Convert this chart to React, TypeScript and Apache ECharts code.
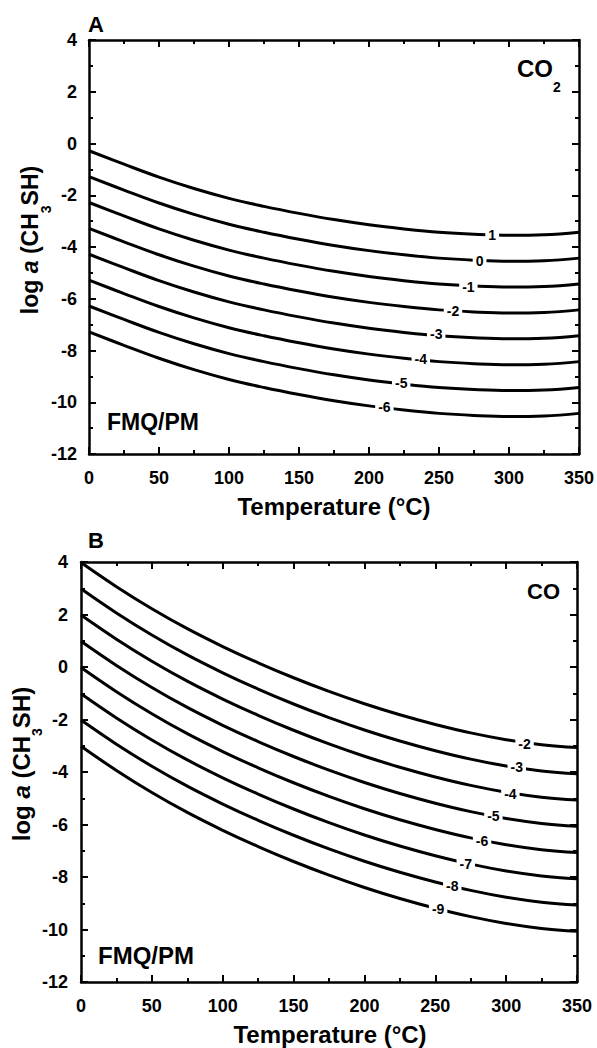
import React, { useEffect, useRef } from 'react';
import * as echarts from 'echarts';

const FONT = "'Liberation Sans', Arial, Helvetica, sans-serif";

// Temperature grid (°C)
const temps = [0, 25, 50, 75, 100, 125, 150, 175, 200, 225, 250, 275, 300, 325, 350];
const xTickLabels = ['0', '50', '100', '150', '200', '250', '300', '350'];
const yTickLabels = ['-12', '-10', '-8', '-6', '-4', '-2', '0', '2', '4'];

// Panel A (CO2) – log a(CH3SH) contours
const aP1 = [-0.28, -0.8, -1.3, -1.74, -2.12, -2.43, -2.7, -2.94, -3.14, -3.3, -3.43, -3.51, -3.55, -3.53, -3.43];
const a0 = [-1.28, -1.8, -2.3, -2.74, -3.12, -3.43, -3.7, -3.94, -4.14, -4.3, -4.43, -4.51, -4.55, -4.53, -4.43];
const aM1 = [-2.28, -2.8, -3.3, -3.74, -4.12, -4.43, -4.7, -4.94, -5.14, -5.3, -5.43, -5.51, -5.55, -5.53, -5.43];
const aM2 = [-3.28, -3.8, -4.3, -4.74, -5.12, -5.43, -5.7, -5.94, -6.14, -6.3, -6.43, -6.51, -6.55, -6.53, -6.43];
const aM3 = [-4.28, -4.8, -5.3, -5.74, -6.12, -6.43, -6.7, -6.94, -7.14, -7.3, -7.43, -7.51, -7.55, -7.53, -7.43];
const aM4 = [-5.28, -5.8, -6.3, -6.74, -7.12, -7.43, -7.7, -7.94, -8.14, -8.3, -8.43, -8.51, -8.55, -8.53, -8.43];
const aM5 = [-6.28, -6.8, -7.3, -7.74, -8.12, -8.43, -8.7, -8.94, -9.14, -9.3, -9.43, -9.51, -9.55, -9.53, -9.43];
const aM6 = [-7.28, -7.8, -8.3, -8.74, -9.12, -9.43, -9.7, -9.94, -10.14, -10.3, -10.43, -10.51, -10.55, -10.53, -10.43];
const curvesA = [aP1, a0, aM1, aM2, aM3, aM4, aM5, aM6];
const curveLabelsA: [number, number, string][] = [
  [288, -3.53, '1'],
  [279, -4.54, '0'],
  [271, -5.53, '-1'],
  [260, -6.46, '-2'],
  [248, -7.38, '-3'],
  [237, -8.33, '-4'],
  [223, -9.26, '-5'],
  [211, -10.2, '-6'],
];

// Panel B (CO)
const bM2 = [3.98, 3.06, 2.22, 1.46, 0.78, 0.16, -0.41, -0.93, -1.4, -1.82, -2.19, -2.51, -2.77, -2.96, -3.07];
const bM3 = [2.98, 2.06, 1.22, 0.46, -0.22, -0.84, -1.41, -1.93, -2.4, -2.82, -3.19, -3.51, -3.77, -3.96, -4.07];
const bM4 = [1.98, 1.06, 0.22, -0.54, -1.22, -1.84, -2.41, -2.93, -3.4, -3.82, -4.19, -4.51, -4.77, -4.96, -5.07];
const bM5 = [0.98, 0.06, -0.78, -1.54, -2.22, -2.84, -3.41, -3.93, -4.4, -4.82, -5.19, -5.51, -5.77, -5.96, -6.07];
const bM6 = [-0.02, -0.94, -1.78, -2.54, -3.22, -3.84, -4.41, -4.93, -5.4, -5.82, -6.19, -6.51, -6.77, -6.96, -7.07];
const bM7 = [-1.02, -1.94, -2.78, -3.54, -4.22, -4.84, -5.41, -5.93, -6.4, -6.82, -7.19, -7.51, -7.77, -7.96, -8.07];
const bM8 = [-2.02, -2.94, -3.78, -4.54, -5.22, -5.84, -6.41, -6.93, -7.4, -7.82, -8.19, -8.51, -8.77, -8.96, -9.07];
const bM9 = [-3.02, -3.94, -4.78, -5.54, -6.22, -6.84, -7.41, -7.93, -8.4, -8.82, -9.19, -9.51, -9.77, -9.96, -10.07];
const curvesB = [bM2, bM3, bM4, bM5, bM6, bM7, bM8, bM9];
const curveLabelsB: [number, number, string][] = [
  [313, -2.92, '-2'],
  [307.5, -3.82, '-3'],
  [303, -4.85, '-4'],
  [291, -5.67, '-5'],
  [283, -6.64, '-6'],
  [271.5, -7.52, '-7'],
  [262, -8.34, '-8'],
  [252, -9.22, '-9'],
];

const makeX = (gridIndex: number, position: string, showLabel: boolean, margin: number) => ({
  type: 'value',
  gridIndex,
  position,
  min: 0,
  max: 350,
  interval: 50,
  axisLine: { show: true, onZero: false, lineStyle: { color: '#000', width: 2.5 } },
  axisTick: { show: true, inside: true, length: 7, lineStyle: { color: '#000', width: 2 } },
  minorTick: { show: true, splitNumber: 2, length: 4, lineStyle: { color: '#000', width: 2 } },
  splitLine: { show: false },
  minorSplitLine: { show: false },
  axisLabel: {
    show: showLabel,
    margin,
    fontSize: 18,
    fontWeight: 'bold',
    color: '#000',
    fontFamily: FONT,
    formatter: (v: number) => xTickLabels[Math.round(v / 50)] ?? String(v),
  },
});

const makeY = (gridIndex: number, position: string, showLabel: boolean, margin: number) => ({
  type: 'value',
  gridIndex,
  position,
  min: -12,
  max: 4,
  interval: 2,
  axisLine: { show: true, onZero: false, lineStyle: { color: '#000', width: 2.5 } },
  axisTick: { show: true, inside: true, length: 7, lineStyle: { color: '#000', width: 2 } },
  minorTick: { show: true, splitNumber: 2, length: 4, lineStyle: { color: '#000', width: 2 } },
  splitLine: { show: false },
  minorSplitLine: { show: false },
  axisLabel: {
    show: showLabel,
    margin,
    fontSize: 18,
    fontWeight: 'bold',
    color: '#000',
    fontFamily: FONT,
    formatter: (v: number) => yTickLabels[Math.round((v + 12) / 2)] ?? String(v),
  },
});

const lineSeries = (vals: number[], axisIdx: number) => ({
  type: 'line',
  xAxisIndex: axisIdx,
  yAxisIndex: axisIdx,
  data: temps.map((t, i) => [t, vals[i]]),
  symbol: 'none',
  showSymbol: false,
  smooth: 0.4,
  lineStyle: { color: '#000', width: 3 },
  silent: true,
  z: 2,
});

const labelSeries = (labels: [number, number, string][], axisIdx: number) => ({
  type: 'scatter',
  xAxisIndex: axisIdx,
  yAxisIndex: axisIdx,
  data: labels,
  symbolSize: 0,
  itemStyle: { color: '#fff', opacity: 1 },
  silent: true,
  z: 5,
  label: {
    show: true,
    position: 'inside',
    formatter: (p: any) => p.value[2],
    fontSize: 14,
    fontWeight: 'bold',
    color: '#000',
    opacity: 1,
    textBorderWidth: 0,
    textBorderColor: 'transparent',
    fontFamily: FONT,
    backgroundColor: '#fff',
    padding: [1, 3],
  },
});

const txt = (text: string, x: number, y: number, size: number, align = 'left') => ({
  type: 'text',
  x,
  y,
  silent: true,
  style: {
    text,
    fill: '#000',
    fontSize: size,
    fontWeight: 'bold',
    fontFamily: FONT,
    align,
    verticalAlign: 'middle',
  },
});

const yTitle = (x: number, y: number, size: number) => ({
  type: 'text',
  x,
  y,
  rotation: Math.PI / 2,
  silent: true,
  style: {
    text: '{n|log }{i|a}{n| (CH}{s|3}{n|SH)}',
    align: 'center',
    verticalAlign: 'middle',
    fill: '#000',
    rich: {
      n: { fontSize: size, fontWeight: 'bold', fontFamily: FONT, lineHeight: 24, verticalAlign: 'top', fill: '#000' },
      i: { fontSize: size, fontWeight: 'bold', fontStyle: 'italic', fontFamily: FONT, lineHeight: 24, verticalAlign: 'top', fill: '#000' },
      s: { fontSize: 14, fontWeight: 'bold', fontFamily: FONT, lineHeight: 14, padding: [21, 0, 0, 0], verticalAlign: 'top', fill: '#000' },
    },
  },
});

export default function App() {
  const ref = useRef<HTMLDivElement>(null);
  useEffect(() => {
    if (!ref.current) return;
    const chart = echarts.init(ref.current, null, { renderer: 'svg' });
    const option: any = {
      animation: false,
      backgroundColor: '#fff',
      grid: [
        { left: 89, top: 40, width: 490, height: 414 },
        { left: 81, top: 562, width: 496, height: 420 },
      ],
      xAxis: [makeX(0, 'bottom', true, 15), makeX(0, 'top', false, 8), makeX(1, 'bottom', true, 15), makeX(1, 'top', false, 8)],
      yAxis: [makeY(0, 'left', true, 12), makeY(0, 'right', false, 8), makeY(1, 'left', true, 13), makeY(1, 'right', false, 8)],
      series: [
        ...curvesA.map((c) => lineSeries(c, 0)),
        labelSeries(curveLabelsA, 0),
        ...curvesB.map((c) => lineSeries(c, 2)),
        labelSeries(curveLabelsB, 2),
      ],
      graphic: [
        txt('A', 88, 24, 22),
        txt('B', 88, 540, 22),
        txt('CO', 517, 68, 24),
        txt('2', 553, 87, 14),
        txt('CO', 527, 591, 22),
        txt('FMQ/PM', 107, 422, 23),
        txt('FMQ/PM', 98, 955, 24),
        txt('Temperature (°C)', 334, 506, 24, 'center'),
        txt('Temperature (°C)', 330, 1034, 24, 'center'),
        yTitle(30, 240, 23),
        yTitle(21, 764, 24),
      ],
    };
    chart.setOption(option);
    return () => chart.dispose();
  }, []);
  return (
    <div
      ref={ref}
      style={{ position: 'fixed', left: 0, top: 0, width: 597, height: 1048, background: '#fff' }}
    />
  );
}
